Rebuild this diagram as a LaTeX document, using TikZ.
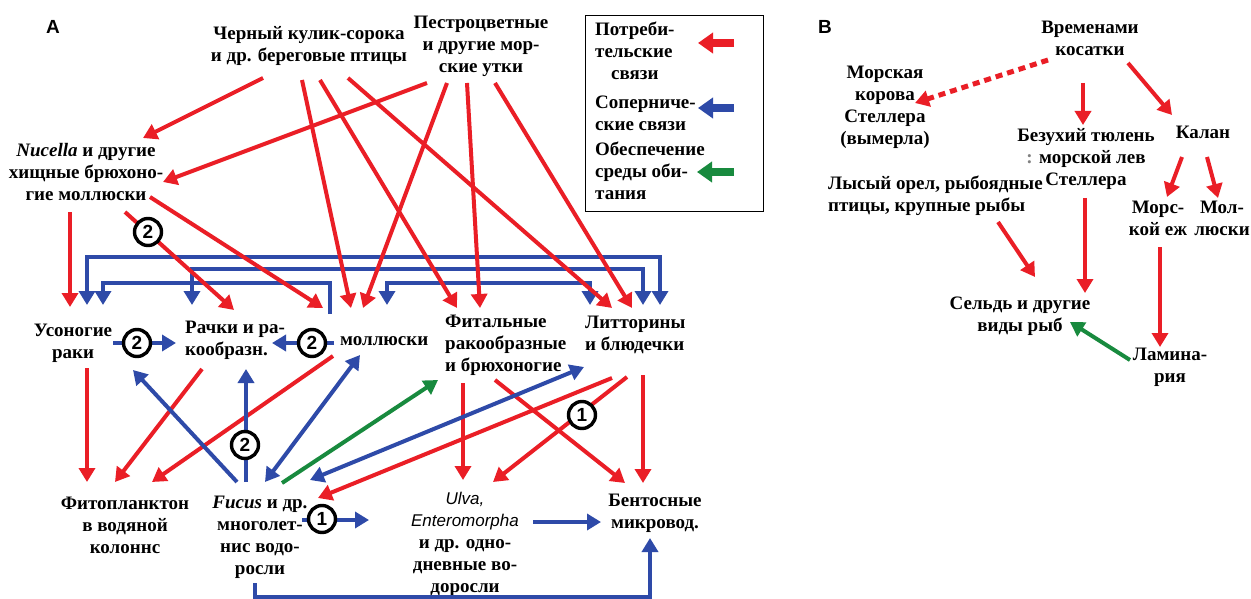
\documentclass[tikz,border=0pt]{standalone}
\usepackage{fontspec}
\setmainfont{Liberation Serif}[BoldFont={Liberation Serif Bold},ItalicFont={Liberation Serif Italic},BoldItalicFont={Liberation Serif Bold Italic}]
\setsansfont{Liberation Sans}
\usetikzlibrary{arrows.meta}
\definecolor{cred}{RGB}{234,30,38}
\definecolor{cblue}{RGB}{46,74,168}
\definecolor{cgreen}{RGB}{24,138,62}
\begin{document}
\begin{tikzpicture}[x=1pt,y=-1pt,
  lbl/.style={font=\rmfamily\bfseries\fontsize{19}{22}\selectfont,align=center,inner sep=0pt},
  tip/.style={-{Triangle[length=14pt,width=16pt]}},
  ra/.style={draw=cred,line width=4pt,tip},
  ba/.style={draw=cblue,line width=4pt,tip},
  bba/.style={draw=cblue,line width=4pt,line join=miter,{Triangle[length=14pt,width=16pt]}-{Triangle[length=14pt,width=16pt]}},
  ga/.style={draw=cgreen,line width=4pt,tip},
  num/.style={circle,draw=black,line width=3.4pt,fill=white,minimum size=27pt,inner sep=0pt,font=\sffamily\bfseries\fontsize{19}{19}\selectfont},
  legarr/.style={line width=8pt,-{Triangle[length=15pt,width=20pt]}},
  panel/.style={font=\sffamily\bfseries\fontsize{19}{19}\selectfont,inner sep=0pt}
]
\useasboundingbox (0,0) rectangle (1251,599);
\fill[white] (0,0) rectangle (1251,599);

% ---------- panel A labels ----------
\node[panel] (labA) at (53,27) {A};
\node[lbl] (kulik) at (309,46) {Черный кулик-сорока\\и др. береговые птицы};
\node[lbl] (ducks) at (481,46) {Пестроцветные\\и другие мор-\\ские утки};
\node[lbl] (nuc) at (86,172) {\textit{Nucella} и другие\\хищные брюхоно-\\гие моллюски};
\node[lbl] (uson) at (73,343) {Усоногие\\раки};
\node[lbl,align=left,anchor=west] (rach) at (185,340) {Рачки и ра-\\кообразн.};
\node[lbl,anchor=west] (moll) at (340,341) {моллюски};
\node[lbl,align=left,anchor=west] (fit) at (445,345) {Фитальные\\ракообразные\\и брюхоногие};
\node[lbl,align=left,anchor=west] (lit) at (585,335) {Литторины\\и блюдечки};
\node[lbl] (fito) at (125,525) {Фитопланктон\\в водяной\\колоннс};
\node[lbl] (fucus) at (260,537) {\textit{Fucus} и др.\\многолет-\\нис водо-\\росли};
\node[lbl] (ulva) at (465,544) {{\sffamily\mdseries\itshape\fontsize{17}{22}\selectfont Ulva,}\\{\sffamily\mdseries\itshape\fontsize{17}{22}\selectfont Enteromorpha}\\и др. одно-\\дневные во-\\доросли};
\node[lbl] (bent) at (655,513) {Бентосные\\микровод.};

% ---------- legend ----------
\node[draw=black,line width=1pt,minimum width=178pt,minimum height=195pt,inner sep=0pt] (legbox) at (674,113.5) {};
\node[lbl,align=left,anchor=north west] (leg1) at (595,22) {Потреби-\\тельские\\\hspace*{16pt}связи};
\node[lbl,align=left,anchor=north west] (leg2) at (595,96) {Соперниче-\\ские связи};
\node[lbl,align=left,anchor=north west] (leg3) at (595,142) {Обеспечение\\среды оби-\\тания};
\coordinate (l1a) at (734,43); \coordinate (l1b) at (698,43);
\coordinate (l2a) at (734,108); \coordinate (l2b) at (698,108);
\coordinate (l3a) at (734,172); \coordinate (l3b) at (697,172);
\draw[legarr,draw=cred,fill=cred] (l1a) -- (l1b);
\draw[legarr,draw=cblue,fill=cblue] (l2a) -- (l2b);
\draw[legarr,draw=cgreen,fill=cgreen] (l3a) -- (l3b);

% ---------- blue brackets ----------
\coordinate (br1a) at (87,305);  \coordinate (br1b) at (660,305);
\coordinate (br2a) at (192,305); \coordinate (br2b) at (643,305);
\coordinate (br3a) at (330,314); \coordinate (br3b) at (103,305);
\coordinate (br4a) at (387,305); \coordinate (br4b) at (590,305);
\draw[bba] (br1a) -- (87,257) -- (660,257) -- (br1b);
\draw[bba] (br2a) -- (192,269) -- (643,269) -- (br2b);
\draw[ba,line join=miter] (br3a) -- (330,283) -- (103,283) -- (br3b);
\draw[bba] (br4a) -- (387,283) -- (590,283) -- (br4b);

% ---------- red consumer links ----------
\coordinate (k1) at (263,78); \coordinate (k2) at (302,80); \coordinate (k3) at (320,80); \coordinate (k4) at (348,78);
\coordinate (d1) at (427,83); \coordinate (d2) at (447,83); \coordinate (d3) at (467,83); \coordinate (d4) at (495,83);
\coordinate (nucT1) at (143,138); \coordinate (nucT2) at (163,182);
\coordinate (mollT1) at (351,308); \coordinate (mollT2) at (363,308);
\coordinate (fitT1) at (457,308); \coordinate (fitT2) at (480,308);
\coordinate (litT1) at (612,308); \coordinate (litT2) at (632,308);
\draw[ra] (k1) -- (nucT1);
\draw[ra] (k2) -- (mollT1);
\draw[ra] (k3) -- (fitT1);
\draw[ra] (k4) -- (litT1);
\draw[ra] (d1) -- (nucT2);
\draw[ra] (d2) -- (mollT2);
\draw[ra] (d3) -- (fitT2);
\draw[ra] (d4) -- (litT2);

\coordinate (n1) at (70,212); \coordinate (n2) at (125,212); \coordinate (n3) at (150,197);
\coordinate (usonT) at (70,307); \coordinate (rachT) at (234,310); \coordinate (mollT3) at (323,308);
\draw[ra] (n1) -- (usonT);
\draw[ra] (n2) -- (rachT);
\draw[ra] (n3) -- (mollT3);

\coordinate (u1) at (87,368); \coordinate (r1) at (202,369); \coordinate (m1) at (333,356);
\coordinate (fitoT1) at (87,482); \coordinate (fitoT2) at (115,482); \coordinate (fitoT3) at (152,482);
\draw[ra] (u1) -- (fitoT1);
\draw[ra] (r1) -- (fitoT2);
\draw[ra] (m1) -- (fitoT3);

\coordinate (f1) at (463,383); \coordinate (f2) at (495,380);
\coordinate (li1) at (612,378); \coordinate (li2) at (627,377); \coordinate (li3) at (643,375);
\coordinate (ulvaT1) at (463,480); \coordinate (ulvaT2) at (493,482);
\coordinate (bentT1) at (625,483); \coordinate (bentT2) at (643,483);
\coordinate (fucT1) at (318,498);
\draw[ra] (f1) -- (ulvaT1);
\draw[ra] (f2) -- (bentT1);
\draw[ra] (li1) -- (fucT1);
\draw[ra] (li2) -- (ulvaT2);
\draw[ra] (li3) -- (bentT2);

% ---------- blue competition links ----------
\coordinate (uR) at (113,343); \coordinate (rL) at (176,343);
\coordinate (mL) at (334,343); \coordinate (rR) at (272,343);
\draw[ba] (uR) -- (rL);
\draw[ba] (mL) -- (rR);
\coordinate (fu1) at (237,482); \coordinate (rachB1) at (133,370);
\coordinate (fu2) at (246,482); \coordinate (rachB2) at (246,369);
\draw[ba] (fu1) -- (rachB1);
\draw[ba] (fu2) -- (rachB2);
\coordinate (mollB) at (360,355); \coordinate (fu3) at (265,482);
\draw[bba] (mollB) -- (fu3);
\coordinate (fu4) at (310,480); \coordinate (litB) at (584,367);
\draw[bba] (fu4) -- (litB);
\coordinate (fu5) at (302,520); \coordinate (ulvaL) at (369,520);
\draw[ba] (fu5) -- (ulvaL);
\coordinate (ulvaR) at (533,522); \coordinate (bentL) at (601,522);
\draw[ba] (ulvaR) -- (bentL);
\coordinate (fuB) at (255,583); \coordinate (bentB) at (650,538);
\draw[ba,line join=miter] (fuB) -- (255,597) -- (650,597) -- (bentB);

% ---------- green ----------
\coordinate (fu6) at (282,483); \coordinate (fitB) at (438,380);
\draw[ga] (fu6) -- (fitB);

% ---------- numbered circles ----------
\node[num] (c1) at (148,232) {2};
\node[num] (c2) at (137,343) {2};
\node[num] (c3) at (312,343) {2};
\node[num] (c4) at (245,445) {2};
\node[num] (c5) at (322,519) {1};
\node[num] (c6) at (582,415) {1};

% ---------- panel B ----------
\node[panel] (labB) at (825,27) {B};
\node[lbl] (vrem) at (1090,38) {Временами\\косатки};
\node[lbl] (korova) at (885,107) {Морская\\корова\\Стеллера\\(вымерла)};
\node[lbl] (bezuh) at (1086,159) {Безухий тюлень\\{\color{gray}:} морской лев\\Стеллера};
\node[lbl] (kalan) at (1203,132) {Калан};
\node[lbl,align=left,anchor=west] (lysyi) at (828,196) {Лысый орел, рыбоядные\\птицы, крупные рыбы};
\node[lbl] (morsk) at (1158,218) {Морс-\\кой еж};
\node[lbl] (mollB2) at (1222,218) {Мол-\\люски};
\node[lbl] (seld) at (1020,316) {Сельдь и другие\\виды рыб};
\node[lbl] (lamin) at (1170,367) {Ламина-\\рия};

\coordinate (v1) at (1048,60); \coordinate (korT) at (915,103);
\draw[ra,dash pattern=on 7pt off 5pt,line width=5pt] (v1) -- (korT);
\coordinate (v2) at (1083,83); \coordinate (bezT) at (1083,125);
\draw[ra] (v2) -- (bezT);
\coordinate (v3) at (1128,63); \coordinate (kalT) at (1172,115);
\draw[ra] (v3) -- (kalT);
\coordinate (ka1) at (1182,157); \coordinate (morT) at (1167,197);
\draw[ra] (ka1) -- (morT);
\coordinate (ka2) at (1207,157); \coordinate (molT) at (1218,198);
\draw[ra] (ka2) -- (molT);
\coordinate (ly1) at (998,222); \coordinate (seT1) at (1035,277);
\draw[ra] (ly1) -- (seT1);
\coordinate (bz1) at (1085,198); \coordinate (seT2) at (1085,293);
\draw[ra] (bz1) -- (seT2);
\coordinate (me1) at (1160,247); \coordinate (lamT) at (1160,347);
\draw[ra] (me1) -- (lamT);
\coordinate (la1) at (1130,360); \coordinate (seT3) at (1070,322);
\draw[ga] (la1) -- (seT3);
\end{tikzpicture}
\end{document}
